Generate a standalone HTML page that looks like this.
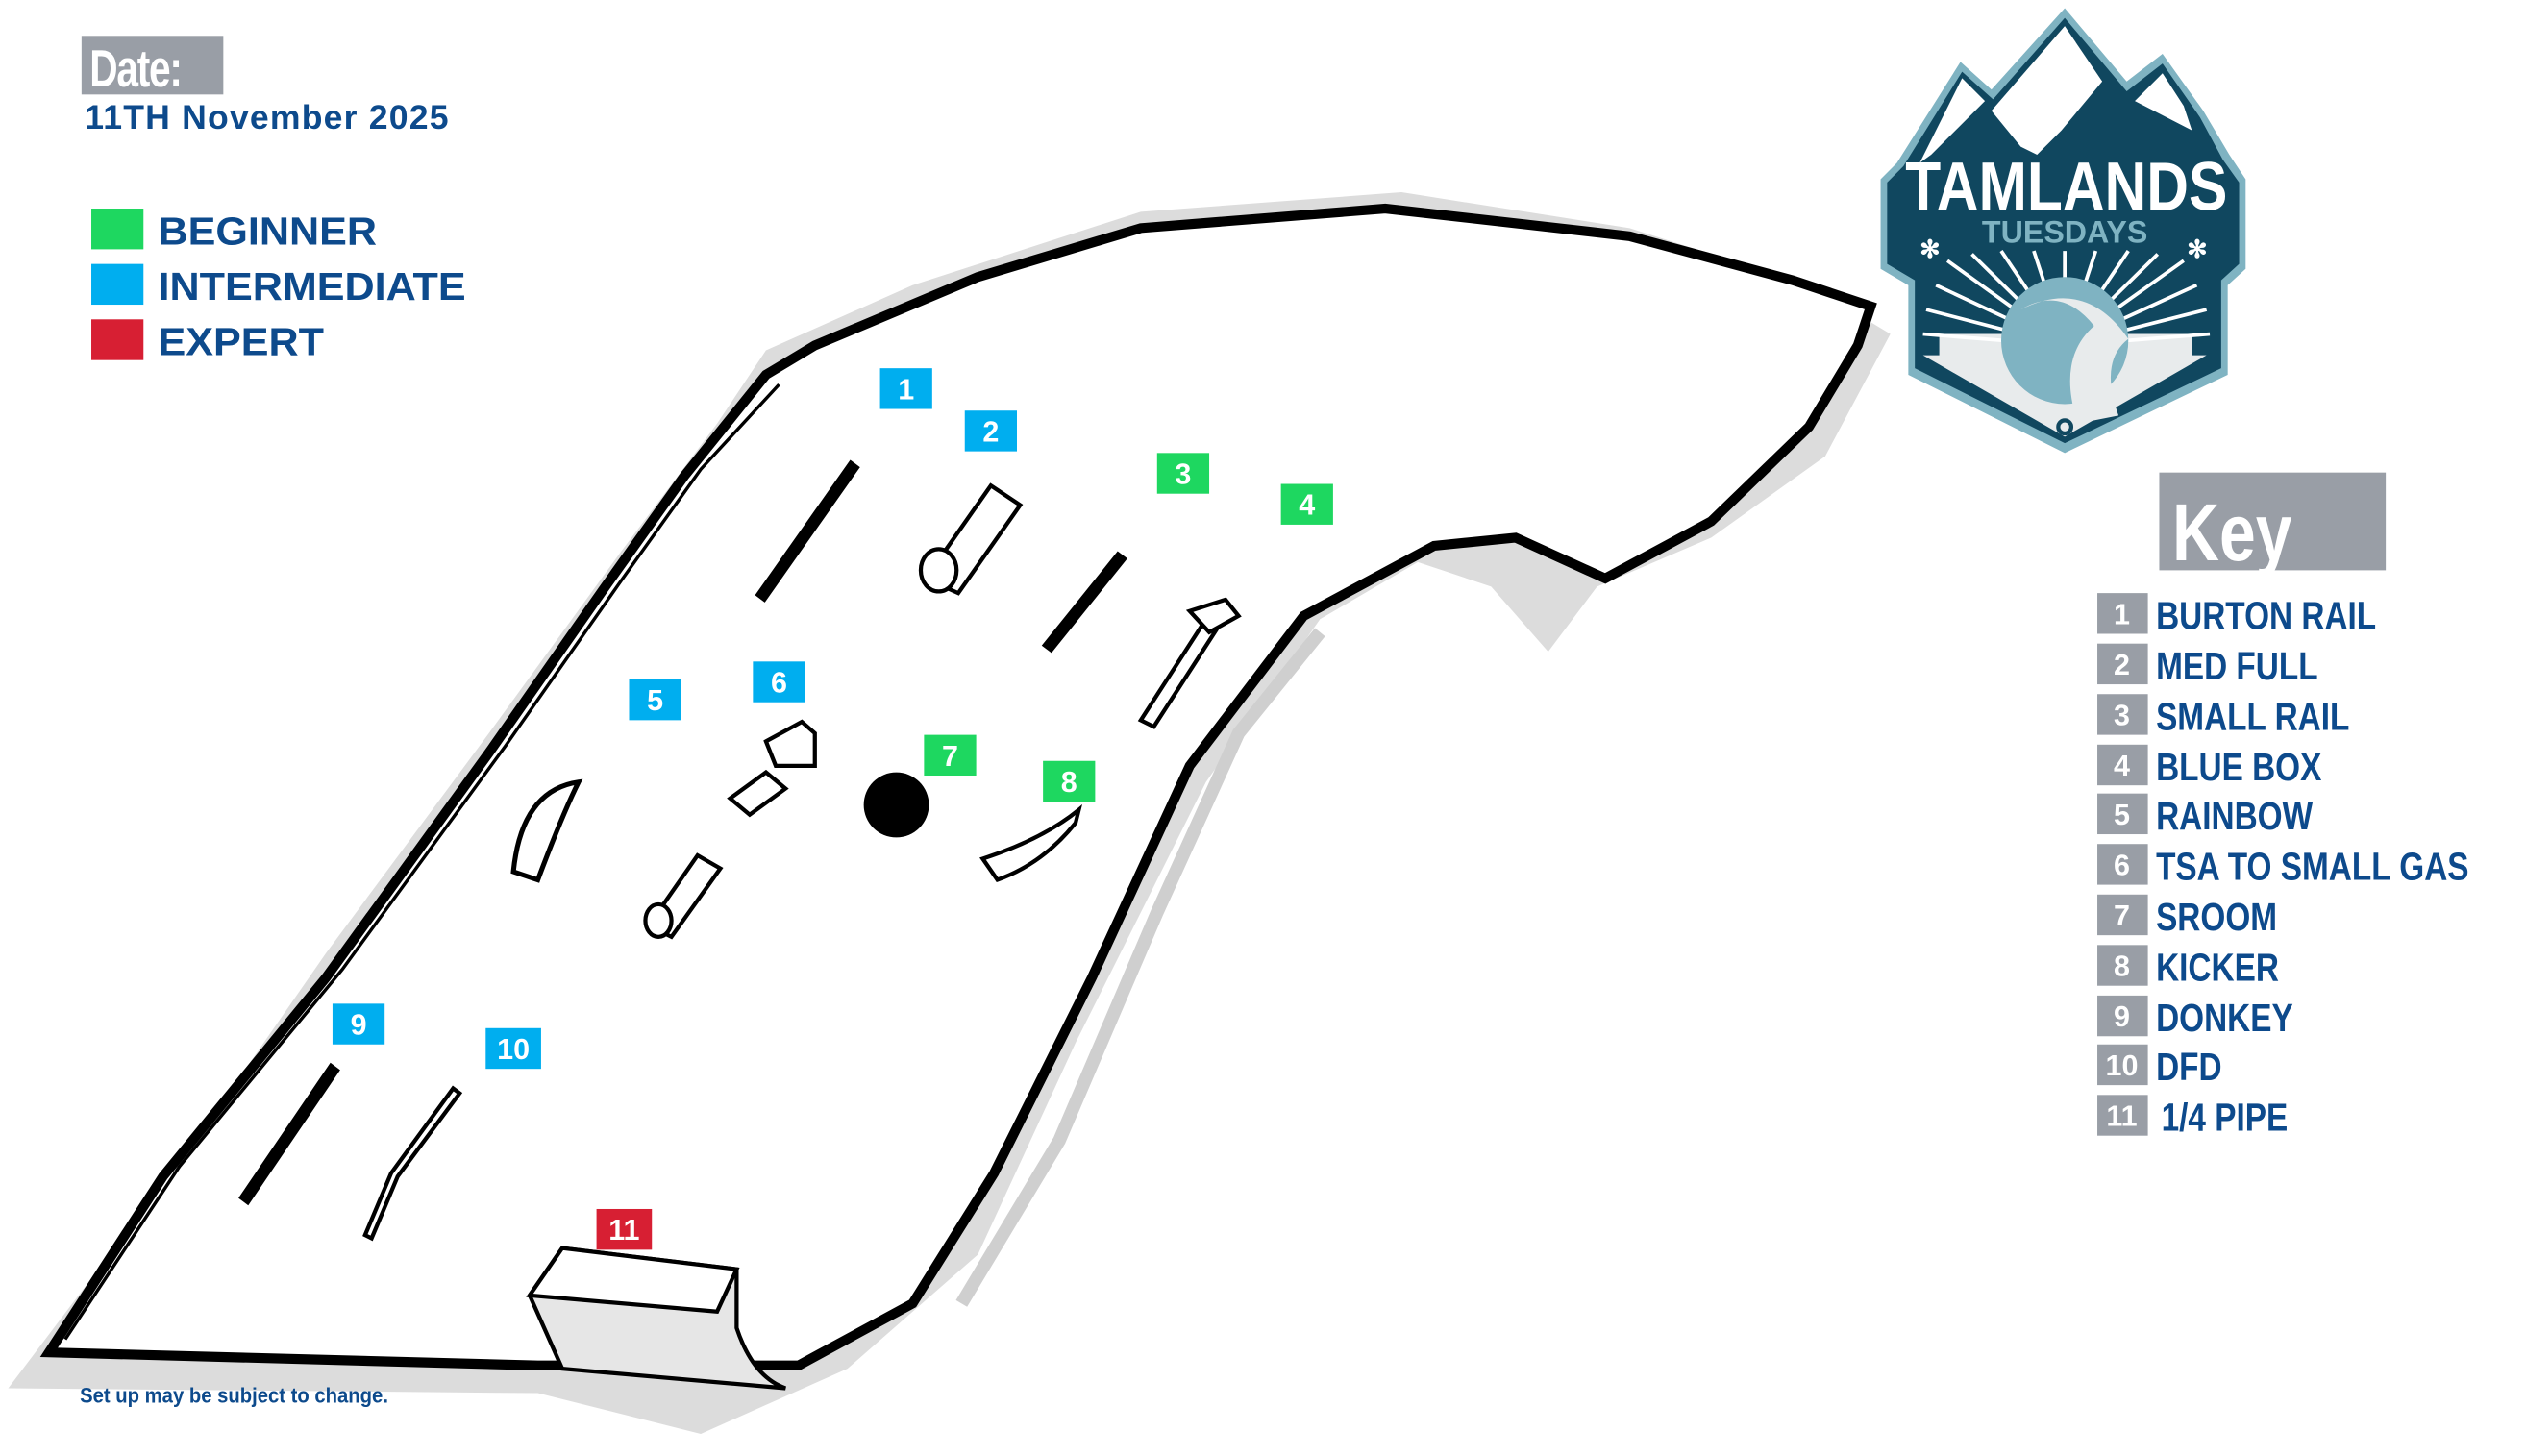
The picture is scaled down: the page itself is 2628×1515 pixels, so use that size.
<!DOCTYPE html>
<html><head><meta charset="utf-8"><style>
html,body{margin:0;padding:0;background:#fff;}
svg{display:block;}
text{font-family:"Liberation Sans",sans-serif;font-weight:bold;}
</style></head><body>
<svg width="2628" height="1515" viewBox="0 0 1550 893.6" xmlns="http://www.w3.org/2000/svg">
<!-- header -->
<rect x="50" y="22" width="87" height="36" fill="#999ea6"/>
<text x="55" y="53" font-size="32" fill="#fff" transform="translate(55 0) scale(0.75 1) translate(-55 0)" letter-spacing="-1">Date:</text>
<text x="52" y="79" font-size="21" fill="#0d4a8c" letter-spacing="0.7">11TH November 2025</text>
<rect x="56" y="128" width="32" height="25" fill="#1ed760"/>
<rect x="56" y="162" width="32" height="25" fill="#00aeef"/>
<rect x="56" y="196" width="32" height="25" fill="#d71f33"/>
<g font-size="24" fill="#0d4a8c" transform="translate(97 0) scale(1.06 1) translate(-97 0)">
<text x="97" y="150">BEGINNER</text>
<text x="97" y="184">INTERMEDIATE</text>
<text x="97" y="218">EXPERT</text>
</g>

<!-- course shadow -->
<path d="M5,852 L120,700 L200,585 L300,450 L380,340 L440,260 L470,215 L560,175 L700,130 L860,118 L1000,140 L1110,175 L1160,205 L1120,280 L1050,330 L980,360 L950,400 L915,360 L870,345 L810,380 L740,480 L660,640 L600,770 L520,840 L430,880 L330,855 Z" fill="#dcdcdc"/>
<!-- course -->
<path d="M30,830 L100,722 L200,600 L300,462 L370,362 L420,292 L470,230 L500,212 L600,170 L700,140 L850,128 L1000,145 L1100,172 L1148,188 L1140,212 L1110,262 L1050,320 L985,355 L930,330 L880,335 L800,378 L730,470 L670,600 L610,720 L560,800 L490,838 L330,838 Z" fill="#fff" stroke="#000" stroke-width="6" stroke-linejoin="miter"/>
<path d="M40,822 L110,716 L210,595 L310,458 L380,358 L430,288 L478,236" fill="none" stroke="#000" stroke-width="2"/>
<path d="M810,388 L760,450 L710,560 L650,700 L590,800" fill="none" stroke="#cfcfcf" stroke-width="8"/>

<text x="49" y="861" font-size="13" fill="#0d4a8c" transform="translate(49 0) scale(0.92 1) translate(-49 0)">Set up may be subject to change.</text>

<!-- features -->
<g stroke="#000" fill="#fff" stroke-width="2.5">
<path d="M465,365 L522,284 L526,287 L469,368 Z" fill="#000"/>
<path d="M568,355 L608,298 L626,310 L588,364 Z"/>
<ellipse cx="576" cy="350" rx="11" ry="13"/>
<path d="M641,396 L686,340 L690,343 L645,399 Z" fill="#000"/>
<path d="M700,442 L740,380 L748,384 L708,446 Z"/>
<path d="M730,375 L752,368 L760,378 L742,388 Z"/>
<path d="M315,535 Q320,485 355,480 Q345,500 330,540 Z" fill="none" stroke-width="3"/>
<path d="M470,455 L492,443 L500,450 L500,470 L476,470 Z"/>
<path d="M448,490 L470,474 L482,484 L460,500 Z"/>
<path d="M398,568 L428,525 L442,533 L412,575 Z"/>
<ellipse cx="404" cy="565" rx="8" ry="10"/>
<path d="M603,527 Q640,515 662,497 L660,505 Q640,530 612,540 Z"/>
<path d="M148,735 L203,654 L207,657 L152,738 Z" fill="#000"/>
<path d="M224,758 L240,720 L278,668 L282,671 L244,722 L228,760 Z"/>
<path d="M325,795 L345,766 L452,779 L452,815 Q462,845 482,852 L345,840 Z" fill="#e6e6e6"/>
<path d="M325,795 L345,766 L452,779 L440,805 Z" fill="#fff"/>
</g>
<circle cx="550" cy="494" r="20" fill="#000"/>

<!-- number tags -->
<g font-size="18" fill="#fff" text-anchor="middle">
<rect x="540" y="226" width="32" height="25" fill="#00aeef"/><text x="556" y="245">1</text>
<rect x="592" y="252" width="32" height="25" fill="#00aeef"/><text x="608" y="271">2</text>
<rect x="710" y="278" width="32" height="25" fill="#1ed760"/><text x="726" y="297">3</text>
<rect x="786" y="297" width="32" height="25" fill="#1ed760"/><text x="802" y="316">4</text>
<rect x="386" y="417" width="32" height="25" fill="#00aeef"/><text x="402" y="436">5</text>
<rect x="462" y="406" width="32" height="25" fill="#00aeef"/><text x="478" y="425">6</text>
<rect x="567" y="451" width="32" height="25" fill="#1ed760"/><text x="583" y="470">7</text>
<rect x="640" y="467" width="32" height="25" fill="#1ed760"/><text x="656" y="486">8</text>
<rect x="204" y="616" width="32" height="25" fill="#00aeef"/><text x="220" y="635">9</text>
<rect x="298" y="631" width="34" height="25" fill="#00aeef"/><text x="315" y="650">10</text>
<rect x="366" y="742" width="34" height="25" fill="#d71f33"/><text x="383" y="761">11</text>
</g>

<!-- logo -->
<path d="M1154,110 L1164,100 L1203,38 L1222,55 L1267,5 L1305,50 L1327,33 L1352,68 L1368,95 L1378,110 L1378,165 L1367,175 L1367,230 L1267,278 L1171,230 L1171,175 L1154,165 Z" fill="#7fb3c2"/>
<path d="M1158,112 L1168,102 L1204,44 L1223,61 L1267,11 L1305,56 L1327,39 L1350,72 L1364,98 L1374,112 L1374,162 L1363,172 L1363,226 L1267,272 L1175,226 L1175,172 L1158,162 Z" fill="#10475f"/>
<path d="M1178,100 L1204,48 L1218,62 L1185,95 Z" fill="#fff"/>
<path d="M1222,68 L1267,16 L1290,50 L1265,80 L1250,95 L1240,90 Z" fill="#fff"/>
<path d="M1310,62 L1327,45 L1340,65 L1345,80 Z" fill="#fff"/>
<path d="M1180,218 L1354,218 L1267,268 Z M1190,205 L1345,205 L1345,220 L1190,220 Z" fill="#e8ebec"/>
<g stroke="#fff" stroke-width="2.2">
<line x1="1267" y1="212" x2="1195" y2="160"/><line x1="1267" y1="212" x2="1188" y2="175"/><line x1="1267" y1="212" x2="1182" y2="190"/><line x1="1267" y1="212" x2="1180" y2="205"/>
<line x1="1267" y1="212" x2="1210" y2="156"/><line x1="1267" y1="212" x2="1228" y2="154"/><line x1="1267" y1="212" x2="1248" y2="154"/><line x1="1267" y1="212" x2="1267" y2="154"/>
<line x1="1267" y1="212" x2="1286" y2="154"/><line x1="1267" y1="212" x2="1306" y2="154"/><line x1="1267" y1="212" x2="1324" y2="156"/><line x1="1267" y1="212" x2="1340" y2="160"/>
<line x1="1267" y1="212" x2="1348" y2="175"/><line x1="1267" y1="212" x2="1354" y2="190"/><line x1="1267" y1="212" x2="1356" y2="205"/>
</g>
<circle cx="1267" cy="209" r="39" fill="#7fb3c2"/>
<path d="M1240,190 Q1265,175 1285,200 Q1262,220 1275,260 L1300,255 Q1288,222 1306,208 Q1280,170 1240,190 Z" fill="#e8ebec"/>
<circle cx="1267" cy="262" r="4" fill="none" stroke="#10475f" stroke-width="2.5"/>
<text x="1268" y="129" font-size="42" fill="#fff" text-anchor="middle" transform="translate(1268 0) scale(0.85 1) translate(-1268 0)">TAMLANDS</text>
<text x="1267" y="149" font-size="19" fill="#7fb3c2" text-anchor="middle" font-family="Liberation Serif">TUESDAYS</text>
<text x="1178" y="158" font-size="15" fill="#fff">✻</text>
<text x="1342" y="158" font-size="15" fill="#fff">✻</text>

<!-- key -->
<rect x="1325" y="290" width="139" height="60" fill="#999ea6"/>
<text x="1333" y="344" font-size="50" fill="#fff" transform="translate(1333 0) scale(0.8 1) translate(-1333 0)">Key</text>
<g fill="#999ea6">
<rect x="1287" y="364" width="31" height="25"/><rect x="1287" y="395" width="31" height="25"/><rect x="1287" y="426" width="31" height="25"/><rect x="1287" y="457" width="31" height="25"/><rect x="1287" y="487" width="31" height="25"/><rect x="1287" y="518" width="31" height="25"/><rect x="1287" y="549" width="31" height="25"/><rect x="1287" y="580" width="31" height="25"/><rect x="1287" y="611" width="31" height="25"/><rect x="1287" y="641" width="31" height="25"/><rect x="1287" y="672" width="31" height="25"/>
</g>
<g fill="#fff" text-anchor="middle" font-size="18">
<text x="1302" y="383">1</text><text x="1302" y="414">2</text><text x="1302" y="445">3</text><text x="1302" y="476">4</text><text x="1302" y="506">5</text><text x="1302" y="537">6</text><text x="1302" y="568">7</text><text x="1302" y="599">8</text><text x="1302" y="630">9</text><text x="1302" y="660">10</text><text x="1302" y="691">11</text>
</g>
<g font-size="24" fill="#0d4a8c" transform="translate(1323 0) scale(0.82 1) translate(-1323 0)">
<text x="1323" y="386">BURTON RAIL</text>
<text x="1323" y="417">MED FULL</text>
<text x="1323" y="448">SMALL RAIL</text>
<text x="1323" y="479">BLUE BOX</text>
<text x="1323" y="509">RAINBOW</text>
<text x="1323" y="540">TSA TO SMALL GAS</text>
<text x="1323" y="571">SROOM</text>
<text x="1323" y="602">KICKER</text>
<text x="1323" y="633">DONKEY</text>
<text x="1323" y="663">DFD</text>
<text x="1327" y="694">1/4 PIPE</text>
</g>
</svg>
</body></html>
